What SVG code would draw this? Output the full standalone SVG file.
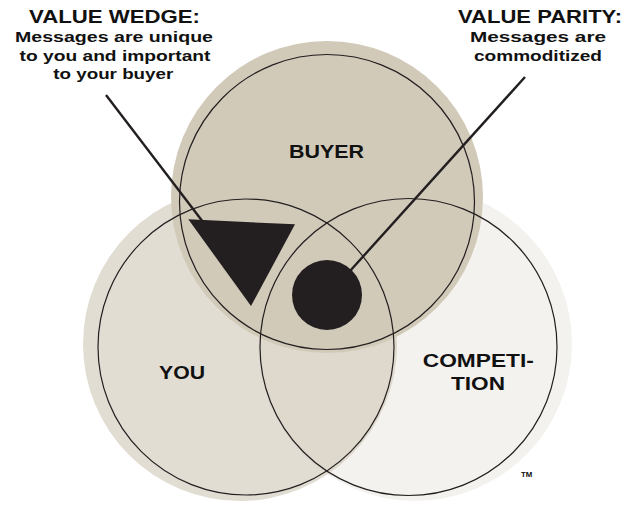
<svg xmlns="http://www.w3.org/2000/svg" width="635" height="505" viewBox="0 0 635 505">
  <style>
    .ring { fill: none; stroke: #231f20; stroke-width: 1.2; }
    .lbl { font-family: "Liberation Sans", Arial, Helvetica, sans-serif; font-weight: bold; fill: #111111; text-anchor: middle; }
    .head { font-size: 17.5px; }
    .sub { font-size: 15px; }
    .set { font-size: 18px; }
    .mark { fill: #231f20; }
    .pointer { stroke: #231f20; stroke-width: 2.4; stroke-linecap: butt; fill: none; }
  </style>
  <defs>
    <clipPath id="youClip">
      <circle cx="240" cy="344" r="157"/>
    </clipPath>
  </defs>
  <rect width="635" height="505" fill="#ffffff"/>

  <!-- soft halo discs behind the three sets -->
  <g id="halos">
    <circle cx="415" cy="344" r="157" fill="#f3f2ee"/>
    <circle cx="240" cy="344" r="157" fill="#e1ddd3"/>
    <circle cx="415" cy="344" r="157" fill="#ded8cd" clip-path="url(#youClip)"/>
    <circle cx="327" cy="197" r="156" fill="#d1cab9"/>
  </g>

  <g id="buyer">
    <circle class="ring" cx="327" cy="202" r="147.5"/>
    <text class="lbl set" x="326.5" y="158.3" textLength="75" lengthAdjust="spacingAndGlyphs">BUYER</text>
  </g>

  <g id="you">
    <circle class="ring" cx="246" cy="347" r="148"/>
    <text class="lbl set" x="182" y="379.3" textLength="46" lengthAdjust="spacingAndGlyphs">YOU</text>
  </g>

  <g id="competition">
    <circle class="ring" cx="408.5" cy="347" r="148.5"/>
    <text class="lbl set" x="478.3" y="366.7" textLength="111" lengthAdjust="spacingAndGlyphs">COMPETI-</text>
    <text class="lbl set" x="478" y="390" textLength="54" lengthAdjust="spacingAndGlyphs">TION</text>
  </g>

  <g id="connectors">
    <line class="pointer" x1="106" y1="95" x2="203" y2="222"/>
    <line class="pointer" x1="525" y1="77" x2="350" y2="271"/>
  </g>

  <g id="value-wedge">
    <polygon class="mark" points="188.3,219.3 295,224.3 251,306"/>
    <text class="lbl head" x="114.5" y="22.7" textLength="171" lengthAdjust="spacingAndGlyphs">VALUE WEDGE:</text>
    <text class="lbl sub" x="114" y="42.3" textLength="198" lengthAdjust="spacingAndGlyphs">Messages are unique</text>
    <text class="lbl sub" x="115" y="60.7" textLength="191" lengthAdjust="spacingAndGlyphs">to you and important</text>
    <text class="lbl sub" x="113.3" y="79" textLength="120" lengthAdjust="spacingAndGlyphs">to your buyer</text>
  </g>

  <g id="value-parity">
    <circle class="mark" cx="327" cy="295" r="35"/>
    <text class="lbl head" x="540" y="22.7" textLength="164" lengthAdjust="spacingAndGlyphs">VALUE PARITY:</text>
    <text class="lbl sub" x="538" y="42.3" textLength="136" lengthAdjust="spacingAndGlyphs">Messages are</text>
    <text class="lbl sub" x="538" y="61" textLength="128" lengthAdjust="spacingAndGlyphs">commoditized</text>
  </g>

  <text class="lbl" x="526.7" y="477.3" font-size="7.5" textLength="11.3" lengthAdjust="spacingAndGlyphs">TM</text>
</svg>
